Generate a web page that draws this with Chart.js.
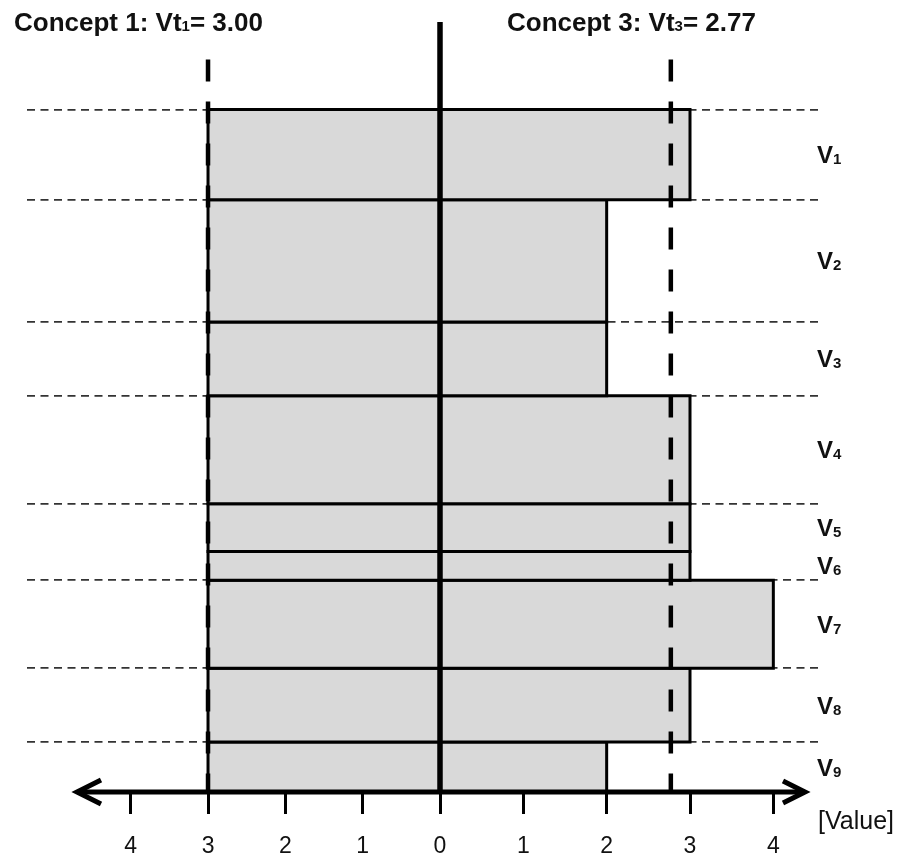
<!DOCTYPE html>
<html><head><meta charset="utf-8">
<style>html,body{margin:0;padding:0;background:#fff;} #wrap{width:903px;height:858px;}</style>
<script src="https://cdn.jsdelivr.net/npm/chart.js@4.4.1/dist/chart.umd.min.js"></script>
</head><body><div id="wrap"><canvas id="c" width="903" height="858"></canvas></div>
<script>
// ---- data ----
const variableIds = ['1','2','3','4','5','6','7','8','9'];
const weights = [13.2, 17.9, 10.8, 15.8, 7.0, 4.2, 12.9, 10.8, 7.3];
const concept1Values = [3,3,3,3,3,3,3,3,3];
const concept3Values = [3,2,2,3,3,3,4,3,2];
const concept1Vt = 3.00;
const concept3Vt = 2.77;
const leftTicks = [1,2,3,4];
const leftTickLabels = ['1','2','3','4'];
const rightTicks = [0,1,2,3,4];
const rightTickLabels = ['0','1','2','3','4'];
const guideBoundaries = [0,1,2,3,4,6,7,8]; // top edge of band i gets a dashed guide

// ---- layout constants ----
const FONT = '"Liberation Sans", Arial, sans-serif';
const Y_MAX = 112.7;
const VT_TOP = 107.2;
const XL = {min: -4.94, max: 5.341};
const XR = {min: -4.956, max: 4.584};

const total = weights.reduce((a,b)=>a+b,0);
const bandTops = [], bandBottoms = [];
let acc = total;
weights.forEach(w => { bandTops.push(acc); acc -= w; bandBottoms.push(acc); });

function rect(x1, yTop, yBot) {
  return [{x:0,y:yTop},{x:x1,y:yTop},{x:x1,y:yBot},{x:0,y:yBot},{x:0,y:yTop}];
}
const barStyle = {borderColor:'#000', borderWidth:3, backgroundColor:'#d9d9d9', fill:'shape',
  pointRadius:0, tension:0, borderJoinStyle:'miter', borderCapStyle:'square', order:3};

const datasets = [];
concept1Values.forEach((v,i) => datasets.push(Object.assign({label:'C1 V'+variableIds[i], xAxisID:'xL', yAxisID:'y',
  data: rect(v, bandTops[i], bandBottoms[i])}, barStyle)));
concept3Values.forEach((v,i) => datasets.push(Object.assign({label:'C3 V'+variableIds[i], xAxisID:'xR', yAxisID:'y',
  data: rect(v, bandTops[i], bandBottoms[i])}, barStyle)));
const lineStyle = {borderColor:'#000', pointRadius:0, fill:false, tension:0, borderCapStyle:'butt', order:1};
datasets.push(Object.assign({label:'Vt1', xAxisID:'xL', yAxisID:'y', data:[{x:concept1Vt,y:VT_TOP},{x:concept1Vt,y:0}],
  borderWidth:4.5, borderDash:[22,20]}, lineStyle));
datasets.push(Object.assign({label:'Vt3', xAxisID:'xR', yAxisID:'y', data:[{x:concept3Vt,y:VT_TOP},{x:concept3Vt,y:0}],
  borderWidth:4.5, borderDash:[22,20]}, lineStyle));
datasets.push(Object.assign({label:'axis0', xAxisID:'xR', yAxisID:'y', data:[{x:0,y:Y_MAX},{x:0,y:0}],
  borderWidth:5.5}, lineStyle));

function drawSubText(ctx, x, y, parts) {
  parts.forEach(p => {
    ctx.font = p.font;
    ctx.fillText(p.t, x, y + (p.dy||0));
    x += ctx.measureText(p.t).width;
  });
}

const overlay = {
  id:'overlay',
  afterDatasetsDraw(chart) {
    const {ctx, chartArea, scales} = chart;
    const y0 = scales.y.getPixelForValue(0);
    ctx.save();
    ctx.strokeStyle = '#000'; ctx.lineWidth = 5; ctx.lineJoin = 'miter'; ctx.lineCap = 'butt';
    const lx = chartArea.left + 50, rx = chartArea.right - 17;
    ctx.beginPath(); ctx.moveTo(lx, y0); ctx.lineTo(rx, y0); ctx.stroke();
    ctx.beginPath(); ctx.moveTo(lx+24, y0-12); ctx.lineTo(lx, y0); ctx.lineTo(lx+24, y0+12); ctx.stroke();
    ctx.beginPath(); ctx.moveTo(rx-22, y0-11); ctx.lineTo(rx, y0); ctx.lineTo(rx-22, y0+11); ctx.stroke();

    ctx.fillStyle = '#111'; ctx.textBaseline = 'alphabetic'; ctx.textAlign = 'left';
    const big = 'bold 26px ' + FONT, small = 'bold 15px ' + FONT;
    drawSubText(ctx, 14, 31, [{t:'Concept 1: Vt', font:big},{t:'1', font:small},{t:'= '+concept1Vt.toFixed(2), font:big}]);
    drawSubText(ctx, 507, 31, [{t:'Concept 3: Vt', font:big},{t:'3', font:small},{t:'= '+concept3Vt.toFixed(2), font:big}]);

    const vx = chartArea.right - 5;
    variableIds.forEach((id,i) => {
      const cy = scales.y.getPixelForValue((bandTops[i]+bandBottoms[i])/2);
      drawSubText(ctx, vx, cy + 8.6, [{t:'V', font:'bold 24px '+FONT},{t:id, font:'bold 15px '+FONT, dy:1}]);
    });
    ctx.font = '25px ' + FONT;
    ctx.fillText('[Value]', 818, 829);
    ctx.restore();
  }
};

const tickFont = {family: FONT, size: 23};
new Chart(document.getElementById('c'), {
  type:'line',
  data:{datasets},
  plugins:[overlay],
  options:{
    responsive:false, animation:false, events:[], devicePixelRatio:1,
    layout:{padding:{left:27, right:81, top:22, bottom:66}},
    plugins:{legend:{display:false}, tooltip:{enabled:false}},
    scales:{
      xL:{type:'linear', axis:'x', reverse:true, min:XL.min, max:XL.max, bounds:'data', position:{y:0},
        border:{display:false},
        grid:{drawOnChartArea:false, drawTicks:true, tickLength:22, tickWidth:3, tickColor:'#000'},
        afterBuildTicks: s => { s.ticks = leftTicks.map(v => ({value:v})); },
        ticks:{autoSkip:false, maxRotation:0, padding:19, color:'#111', font:tickFont,
          callback: v => leftTickLabels[leftTicks.indexOf(v)]}},
      xR:{type:'linear', axis:'x', min:XR.min, max:XR.max, bounds:'data', position:{y:0},
        border:{display:false},
        grid:{drawOnChartArea:false, drawTicks:true, tickLength:22, tickWidth:3, tickColor:'#000'},
        afterBuildTicks: s => { s.ticks = rightTicks.map(v => ({value:v})); },
        ticks:{autoSkip:false, maxRotation:0, padding:19, color:'#111', font:tickFont,
          callback: v => rightTickLabels[rightTicks.indexOf(v)]}},
      y:{type:'linear', min:0, max:Y_MAX, position:'left', bounds:'data',
        ticks:{display:false},
        border:{display:false, dash:[8,5.5]},
        grid:{drawTicks:false, color:'#333', lineWidth:1.7},
        afterBuildTicks: s => { s.ticks = guideBoundaries.map(i => ({value: bandTops[i]})); }}
    }
  }
});
</script></body></html>
